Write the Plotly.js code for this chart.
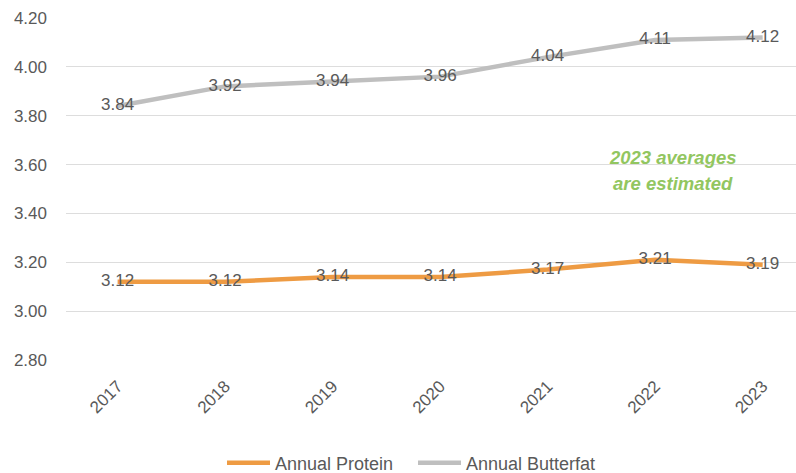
<!DOCTYPE html>
<html>
<head>
<meta charset="utf-8">
<script src="https://cdn.plot.ly/plotly-3.0.1.min.js"></script>
<style>html,body{margin:0;padding:0;background:#fff;}#chart{width:796px;height:473px;}</style>
</head>
<body>
<div id="chart"></div>
<script>
const years = ['2017','2018','2019','2020','2021','2022','2023'];
const protein = [3.12, 3.12, 3.14, 3.14, 3.17, 3.21, 3.19];
const butterfat = [3.84, 3.92, 3.94, 3.96, 4.04, 4.11, 4.12];
const yTicks = [2.80, 3.00, 3.20, 3.40, 3.60, 3.80, 4.00, 4.20];
const noteLines = ['2023 averages', 'are estimated'];

const font = 'Liberation Sans, Arial, sans-serif';
const txtColor = '#595959';

const traces = [
  {
    x: years, y: protein, name: 'Annual Protein', type: 'scatter', mode: 'lines+text',
    line: {color: '#EE9B43', width: 4.5},
    text: protein.map(v => v.toFixed(2)), textposition: 'middle center',
    textfont: {family: font, size: 17, color: txtColor},
    cliponaxis: false
  },
  {
    x: years, y: butterfat, name: 'Annual Butterfat', type: 'scatter', mode: 'lines+text',
    line: {color: '#BFBFBF', width: 4.5},
    text: butterfat.map(v => v.toFixed(2)), textposition: 'middle center',
    textfont: {family: font, size: 17, color: txtColor},
    cliponaxis: false
  }
];

const layout = {
  width: 796, height: 473,
  margin: {l: 66, r: 0, t: 18, b: 113},
  paper_bgcolor: '#ffffff', plot_bgcolor: '#ffffff',
  font: {family: font, size: 17, color: txtColor},
  showlegend: true,
  legend: {
    orientation: 'h', xref: 'container', x: 222 / 796, xanchor: 'left',
    yref: 'container', y: 10 / 473, yanchor: 'middle',
    font: {family: font, size: 18, color: txtColor},
    itemwidth: 43, entrywidth: 133, entrywidthmode: 'pixels', traceorder: 'normal'
  },
  xaxis: {
    type: 'category', range: [-0.48, 6.31],
    showgrid: false, zeroline: false, showline: false, ticks: '',
    tickangle: -45, ticklabelstandoff: 12,
    tickfont: {family: font, size: 17, color: txtColor}
  },
  yaxis: {
    range: [2.80, 4.20], tickvals: yTicks, ticktext: yTicks.map(v => v.toFixed(2)),
    showgrid: true, gridcolor: '#DDDDDD', gridwidth: 1, zeroline: false, showline: false,
    ticks: '', ticklabelstandoff: 18,
    tickfont: {family: font, size: 17, color: txtColor}
  },
  annotations: noteLines.map((t, i) => ({
    text: '<b><i>' + t + '</i></b>', x: 5.165, xref: 'x', y: 3.630 - i * 0.106, yref: 'y',
    showarrow: false, xanchor: 'center', yanchor: 'middle',
    font: {family: font, size: 18.5, color: '#92C660'}
  }))
};

Plotly.newPlot('chart', traces, layout, {displayModeBar: false, staticPlot: true});
</script>
</body>
</html>
